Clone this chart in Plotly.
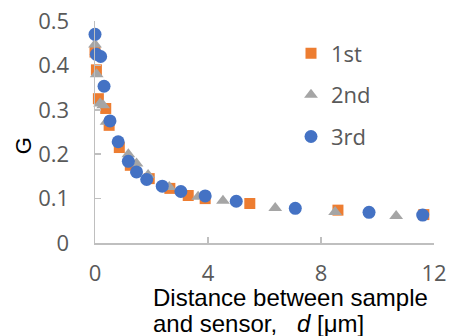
import plotly.graph_objects as go

# distance d [um] and G values
d_1st = [0, 0.05, 0.12, 0.38, 0.5, 0.86, 1.25, 1.92, 2.65, 3.3, 3.9, 5.48, 8.6, 11.64]
g_1st = [0.43, 0.39, 0.325, 0.303, 0.265, 0.215, 0.175, 0.145, 0.123, 0.107, 0.100, 0.089, 0.074, 0.064]

d_2nd = [0, 0.06, 0.18, 0.29, 0.41, 1.18, 1.47, 1.88, 2.63, 3.65, 4.53, 6.38, 8.5, 10.66]
g_2nd = [0.447, 0.38, 0.314, 0.31, 0.273, 0.2, 0.179, 0.153, 0.126, 0.104, 0.095, 0.079, 0.07, 0.061]

d_3rd = [0, 0.05, 0.2, 0.32, 0.53, 0.82, 1.18, 1.47, 1.83, 2.38, 3.04, 3.9, 5.0, 7.09, 9.7, 11.6]
g_3rd = [0.47, 0.425, 0.42, 0.353, 0.275, 0.228, 0.184, 0.16, 0.143, 0.128, 0.116, 0.106, 0.094, 0.078, 0.069, 0.063]

x_ticks = [0, 4, 8, 12]
y_ticks = [0, 0.1, 0.2, 0.3, 0.4, 0.5]
y_tick_labels = ["0", "0.1", "0.2", "0.3", "0.4", "0.5"]

W, H = 449, 336
PX0, PY0 = 95, 20.5      # plot-area top-left
PW, PH = 339, 222.5      # plot-area size
ML, MT = PX0, PY0
MR = W - ML - PW
MB = H - MT - PH

fig = go.Figure()
series = [
    ("1st", d_1st, g_1st, "square", "#ED7D31", 11),
    ("2nd", d_2nd, g_2nd, "triangle-up", "#A5A5A5", 12),
    ("3rd", d_3rd, g_3rd, "circle", "#4472C4", 13),
]
for name, xs, ys, sym, col, sz in series:
    fig.add_trace(go.Scatter(
        x=xs, y=ys, mode="markers", name=name, legendgroup=name,
        marker=dict(symbol=sym, color=col, size=sz, line=dict(width=0)),
        cliponaxis=False,
    ))

FAM = "'Open Sans', 'Noto Sans', sans-serif"

def px_x(px):
    return (px - PX0) / PW

def px_y(py):
    return (PY0 + PH - py) / PH

fig.update_layout(
    template="none",
    width=W, height=H,
    margin=dict(l=ML, r=MR, t=MT, b=MB, pad=0, autoexpand=False),
    paper_bgcolor="white", plot_bgcolor="white",
    showlegend=True,
    legend=dict(
        x=px_x(291), y=px_y(32), xanchor="left", yanchor="top",
        font=dict(family=FAM, size=22, color="#595959"),
        traceorder="grouped", tracegroupgap=10, bgcolor="rgba(0,0,0,0)",
        itemsizing="trace", borderwidth=0,
    ),
    xaxis=dict(
        range=[0, 12], tickvals=x_ticks, ticktext=[str(v) for v in x_ticks],
        showgrid=False, zeroline=False, showline=True, linecolor="#BFBFBF", linewidth=1.5,
        ticks="inside", ticklen=6, tickcolor="#BFBFBF", tickwidth=1.5,
        tickfont=dict(family=FAM, size=22, color="#595959"),
        ticklabelstandoff=10, automargin=False, ticklabeloverflow="allow",
    ),
    yaxis=dict(
        range=[0, 0.5], tickvals=y_ticks, ticktext=y_tick_labels,
        showgrid=False, zeroline=False, showline=True, linecolor="#BFBFBF", linewidth=1.5,
        ticks="inside", ticklen=6, tickcolor="#BFBFBF", tickwidth=1.5,
        tickfont=dict(family=FAM, size=22, color="#595959"),
        ticklabelstandoff=20, automargin=False, ticklabeloverflow="allow",
    ),
)

title_font = dict(family="'Liberation Sans', Arial, sans-serif", size=24, color="#000000")
fig.add_annotation(text="Distance between sample", x=px_x(151), y=px_y(297.5), xref="paper", yref="paper",
                   xanchor="left", yanchor="middle", showarrow=False, font=title_font)
fig.add_annotation(text="and sensor,   <i>d</i> [μm]", x=px_x(151), y=px_y(323.5), xref="paper", yref="paper",
                   xanchor="left", yanchor="middle", showarrow=False, font=title_font)
fig.add_annotation(text="G", x=px_x(23), y=px_y(146), xref="paper", yref="paper",
                   xanchor="center", yanchor="middle", showarrow=False, textangle=-90,
                   font=dict(family="'Liberation Sans', Arial, sans-serif", size=22, color="#000000"))

fig.write_html(
    "out.html",
    config={"displayModeBar": False, "staticPlot": True},
    post_script="document.body.style.margin='0';document.body.style.overflow='hidden';",
)
